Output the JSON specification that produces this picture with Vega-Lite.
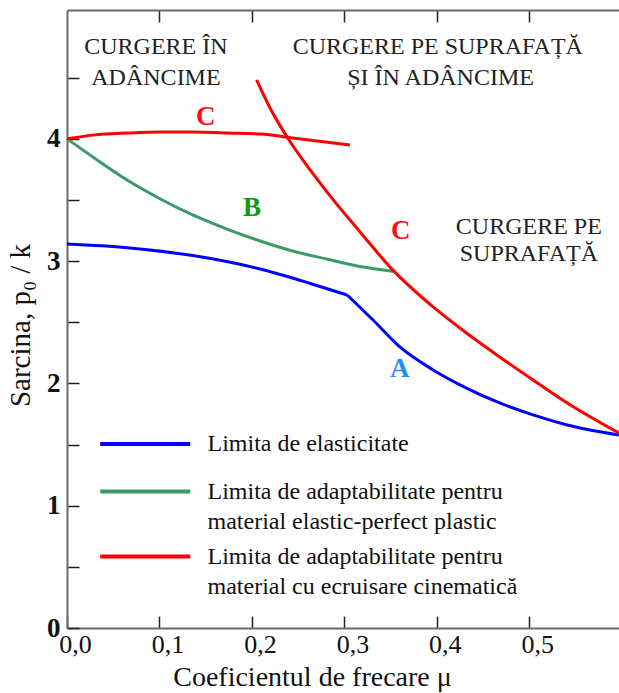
{
  "$schema": "https://vega.github.io/schema/vega-lite/v6.json",
  "width": 552,
  "height": 618,
  "autosize": "none",
  "padding": {"left": 67, "top": 10, "right": 0, "bottom": 65},
  "config": {
    "font": "'Liberation Serif', 'Times New Roman', Times, serif",
    "view": {"stroke": null},
    "text": {"font": "'Liberation Serif', 'Times New Roman', Times, serif"},
    "axis": {"labelFont": "'Liberation Serif', 'Times New Roman', Times, serif", "titleFont": "'Liberation Serif', 'Times New Roman', Times, serif"},
    "legend": {"labelFont": "'Liberation Serif', 'Times New Roman', Times, serif"},
    "style": {"guide-label": {"lineHeight": 30}}
  },
  "datasets": {
    "curves": [
      {"series": "Limita de elasticitate", "seg": "A1", "mu": 0.0, "p": 3.14},
      {"series": "Limita de elasticitate", "seg": "A1", "mu": 0.065, "p": 3.11},
      {"series": "Limita de elasticitate", "seg": "A1", "mu": 0.136, "p": 3.045},
      {"series": "Limita de elasticitate", "seg": "A1", "mu": 0.209, "p": 2.935},
      {"series": "Limita de elasticitate", "seg": "A1", "mu": 0.264, "p": 2.815},
      {"series": "Limita de elasticitate", "seg": "A1", "mu": 0.303, "p": 2.723},
      {"series": "Limita de elasticitate", "seg": "A2", "mu": 0.303, "p": 2.723},
      {"series": "Limita de elasticitate", "seg": "A2", "mu": 0.331, "p": 2.518},
      {"series": "Limita de elasticitate", "seg": "A2", "mu": 0.36, "p": 2.298},
      {"series": "Limita de elasticitate", "seg": "A2", "mu": 0.396, "p": 2.11},
      {"series": "Limita de elasticitate", "seg": "A2", "mu": 0.432, "p": 1.962},
      {"series": "Limita de elasticitate", "seg": "A2", "mu": 0.468, "p": 1.84},
      {"series": "Limita de elasticitate", "seg": "A2", "mu": 0.504, "p": 1.742},
      {"series": "Limita de elasticitate", "seg": "A2", "mu": 0.541, "p": 1.66},
      {"series": "Limita de elasticitate", "seg": "A2", "mu": 0.597, "p": 1.578},
      {"series": "Limita de adaptabilitate pentru|material elastic-perfect plastic", "seg": "B", "mu": 0.0, "p": 4.0},
      {"series": "Limita de adaptabilitate pentru|material elastic-perfect plastic", "seg": "B", "mu": 0.028, "p": 3.851},
      {"series": "Limita de adaptabilitate pentru|material elastic-perfect plastic", "seg": "B", "mu": 0.065, "p": 3.663},
      {"series": "Limita de adaptabilitate pentru|material elastic-perfect plastic", "seg": "B", "mu": 0.101, "p": 3.508},
      {"series": "Limita de adaptabilitate pentru|material elastic-perfect plastic", "seg": "B", "mu": 0.136, "p": 3.377},
      {"series": "Limita de adaptabilitate pentru|material elastic-perfect plastic", "seg": "B", "mu": 0.173, "p": 3.262},
      {"series": "Limita de adaptabilitate pentru|material elastic-perfect plastic", "seg": "B", "mu": 0.209, "p": 3.164},
      {"series": "Limita de adaptabilitate pentru|material elastic-perfect plastic", "seg": "B", "mu": 0.244, "p": 3.082},
      {"series": "Limita de adaptabilitate pentru|material elastic-perfect plastic", "seg": "B", "mu": 0.281, "p": 3.017},
      {"series": "Limita de adaptabilitate pentru|material elastic-perfect plastic", "seg": "B", "mu": 0.317, "p": 2.955},
      {"series": "Limita de adaptabilitate pentru|material elastic-perfect plastic", "seg": "B", "mu": 0.354, "p": 2.915},
      {"series": "Limita de adaptabilitate pentru|material cu ecruisare cinematică", "seg": "C1", "mu": 0.0, "p": 4.0},
      {"series": "Limita de adaptabilitate pentru|material cu ecruisare cinematică", "seg": "C1", "mu": 0.028, "p": 4.03},
      {"series": "Limita de adaptabilitate pentru|material cu ecruisare cinematică", "seg": "C1", "mu": 0.065, "p": 4.047},
      {"series": "Limita de adaptabilitate pentru|material cu ecruisare cinematică", "seg": "C1", "mu": 0.101, "p": 4.056},
      {"series": "Limita de adaptabilitate pentru|material cu ecruisare cinematică", "seg": "C1", "mu": 0.136, "p": 4.056},
      {"series": "Limita de adaptabilitate pentru|material cu ecruisare cinematică", "seg": "C1", "mu": 0.173, "p": 4.047},
      {"series": "Limita de adaptabilitate pentru|material cu ecruisare cinematică", "seg": "C1", "mu": 0.209, "p": 4.039},
      {"series": "Limita de adaptabilitate pentru|material cu ecruisare cinematică", "seg": "C1", "mu": 0.244, "p": 4.007},
      {"series": "Limita de adaptabilitate pentru|material cu ecruisare cinematică", "seg": "C1", "mu": 0.306, "p": 3.949},
      {"series": "Limita de adaptabilitate pentru|material cu ecruisare cinematică", "seg": "C2", "mu": 0.205, "p": 4.481},
      {"series": "Limita de adaptabilitate pentru|material cu ecruisare cinematică", "seg": "C2", "mu": 0.219, "p": 4.26},
      {"series": "Limita de adaptabilitate pentru|material cu ecruisare cinematică", "seg": "C2", "mu": 0.238, "p": 4.015},
      {"series": "Limita de adaptabilitate pentru|material cu ecruisare cinematică", "seg": "C2", "mu": 0.263, "p": 3.745},
      {"series": "Limita de adaptabilitate pentru|material cu ecruisare cinematică", "seg": "C2", "mu": 0.288, "p": 3.5},
      {"series": "Limita de adaptabilitate pentru|material cu ecruisare cinematică", "seg": "C2", "mu": 0.317, "p": 3.238},
      {"series": "Limita de adaptabilitate pentru|material cu ecruisare cinematică", "seg": "C2", "mu": 0.352, "p": 2.93},
      {"series": "Limita de adaptabilitate pentru|material cu ecruisare cinematică", "seg": "C2", "mu": 0.396, "p": 2.625},
      {"series": "Limita de adaptabilitate pentru|material cu ecruisare cinematică", "seg": "C2", "mu": 0.432, "p": 2.412},
      {"series": "Limita de adaptabilitate pentru|material cu ecruisare cinematică", "seg": "C2", "mu": 0.468, "p": 2.216},
      {"series": "Limita de adaptabilitate pentru|material cu ecruisare cinematică", "seg": "C2", "mu": 0.504, "p": 2.028},
      {"series": "Limita de adaptabilitate pentru|material cu ecruisare cinematică", "seg": "C2", "mu": 0.541, "p": 1.84},
      {"series": "Limita de adaptabilitate pentru|material cu ecruisare cinematică", "seg": "C2", "mu": 0.597, "p": 1.594}
    ],
    "regions": [
      {"t": "CURGERE ÎN", "mu": 0.0962, "p": 4.751},
      {"t": "ADÂNCIME", "mu": 0.0962, "p": 4.497},
      {"t": "CURGERE PE SUPRAFAȚĂ", "mu": 0.401, "p": 4.751},
      {"t": "ȘI ÎN ADÂNCIME", "mu": 0.404, "p": 4.497},
      {"t": "CURGERE PE", "mu": 0.4995, "p": 3.279},
      {"t": "SUPRAFAȚĂ", "mu": 0.4995, "p": 3.058}
    ],
    "letters": [
      {"t": "C", "curve": "C", "mu": 0.15, "p": 4.178},
      {"t": "B", "curve": "B", "mu": 0.2, "p": 3.434},
      {"t": "C", "curve": "C", "mu": 0.361, "p": 3.246},
      {"t": "A", "curve": "A", "mu": 0.36, "p": 2.118}
    ]
  },
  "resolve": {"axis": {"x": "independent", "y": "independent"}},
  "layer": [
    {
      "data": {"name": "curves"},
      "transform": [{"filter": "datum.seg == 'A1' || datum.seg == 'A2'"}],
      "mark": {"type": "line", "strokeWidth": 3, "interpolate": "monotone"},
      "encoding": {
        "x": {
          "field": "mu", "type": "quantitative",
          "scale": {"domain": [0, 0.597], "nice": false, "zero": false},
          "axis": {
            "orient": "bottom",
            "values": [0, 0.1, 0.2, 0.3, 0.4, 0.5],
            "labelExpr": "replace(format(datum.value, '.1f'), '.', ',')",
            "labelFlush": false,
            "labelOffset": 8,
            "labelFontSize": 26,
            "labelColor": "#111",
            "labelPadding": 15,
            "tickSize": -12,
            "tickColor": "#222",
            "tickWidth": 1.5,
            "domainColor": "#6b6b6b",
            "domainWidth": 2,
            "grid": false,
            "title": "Coeficientul de frecare μ",
            "titleFontSize": 28,
            "titleFontWeight": "normal",
            "titleColor": "#111",
            "titleX": 245,
            "titleY": 49,
            "titleBaseline": "middle"
          }
        },
        "y": {
          "field": "p", "type": "quantitative",
          "scale": {"domain": [0, 5.053], "nice": false},
          "axis": {
            "values": [0, 0.5, 1, 1.5, 2, 2.5, 3, 3.5, 4, 4.5],
            "labelExpr": "datum.value % 1 == 0 ? format(datum.value, 'd') : ''",
            "labelFlush": false,
            "labelFontSize": 27,
            "labelFontWeight": "bold",
            "labelColor": "#111",
            "labelPadding": 19,
            "tickSize": -12,
            "tickColor": "#222",
            "tickWidth": 1.5,
            "domainColor": "#6b6b6b",
            "domainWidth": 2,
            "grid": false,
            "title": "Sarcina, p₀ / k",
            "titleFontSize": 29,
            "titleFontWeight": "normal",
            "titleColor": "#111",
            "titleX": -47,
            "titleY": 315,
            "titleAlign": "center",
            "titleBaseline": "middle"
          }
        },
        "detail": {"field": "seg"},
        "color": {
          "field": "series", "type": "nominal",
          "scale": {"domain": ["Limita de elasticitate"], "range": ["#0000ff"]},
          "legend": {
            "orient": "none", "legendX": 64.75, "legendY": 420.5,
            "title": null, "padding": 0,
            "symbolType": "M-4,0L4,0", "symbolSize": 506.25, "symbolStrokeWidth": 4,
            "labelFontSize": 24, "labelColor": "#111", "labelOffset": 48.75, "labelLimit": 500
          }
        }
      }
    },
    {
      "data": {"name": "curves"},
      "transform": [{"filter": "datum.seg == 'B' || datum.seg == 'C1' || datum.seg == 'C2'"}],
      "mark": {"type": "line", "strokeWidth": 3, "interpolate": "monotone"},
      "encoding": {
        "x": {
          "field": "mu", "type": "quantitative",
          "axis": {
            "orient": "top",
            "values": [0.1, 0.2, 0.3, 0.4, 0.5],
            "labels": false,
            "tickSize": -12,
            "tickColor": "#222",
            "tickWidth": 1.5,
            "domainColor": "#6b6b6b",
            "domainWidth": 2,
            "grid": false,
            "title": null
          }
        },
        "y": {"field": "p", "type": "quantitative", "axis": null},
        "detail": {"field": "seg"},
        "stroke": {
          "field": "series", "type": "nominal",
          "scale": {
            "domain": ["Limita de adaptabilitate pentru|material elastic-perfect plastic", "Limita de adaptabilitate pentru|material cu ecruisare cinematică"],
            "range": ["#3c9a6a", "#ff0000"]
          },
          "legend": {
            "orient": "none", "legendX": 64.75, "legendY": 468,
            "title": null, "padding": 0, "rowPadding": 9,
            "symbolType": "M-4,0L4,0", "symbolSize": 506.25, "symbolStrokeWidth": 4,
            "labelExpr": "split(datum.label, '|')",
            "labelFontSize": 24, "labelColor": "#111", "labelOffset": 48.75, "labelLimit": 500
          }
        }
      }
    },
    {
      "data": {"name": "regions"},
      "mark": {"type": "text", "fontSize": 24, "align": "center", "baseline": "middle", "color": "#222"},
      "encoding": {
        "x": {"field": "mu", "type": "quantitative", "axis": null},
        "y": {"field": "p", "type": "quantitative", "axis": null},
        "text": {"field": "t"}
      }
    },
    {
      "data": {"name": "letters"},
      "mark": {"type": "text", "fontSize": 27, "fontWeight": "bold", "align": "center", "baseline": "middle"},
      "encoding": {
        "x": {"field": "mu", "type": "quantitative", "axis": null},
        "y": {"field": "p", "type": "quantitative", "axis": null},
        "text": {"field": "t"},
        "fill": {
          "field": "curve", "type": "nominal",
          "scale": {"domain": ["A", "B", "C"], "range": ["#1f8fff", "#119911", "#ff1111"]},
          "legend": null
        }
      }
    }
  ]
}
